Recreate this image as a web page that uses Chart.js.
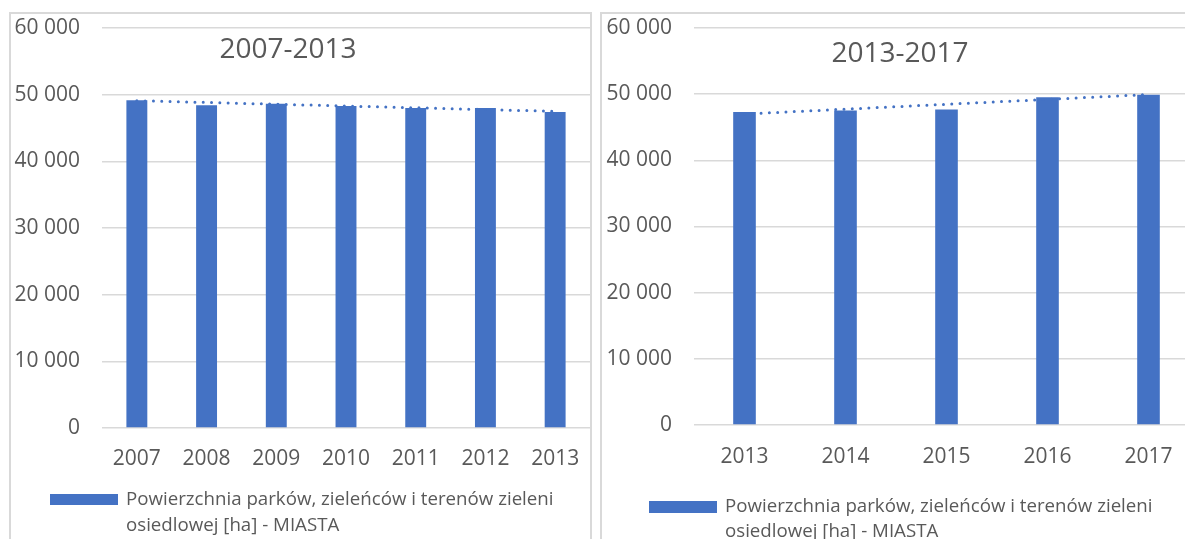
<!DOCTYPE html>
<html>
<head>
<meta charset="utf-8">
<script src="https://cdn.jsdelivr.net/npm/chart.js@4/dist/chart.umd.min.js"></script>
<style>
html,body{margin:0;padding:0;background:#fff;overflow:hidden;width:1185px;height:539px;}
.box{position:absolute;border:2px solid #d9d9d9;background:#fff;}
#boxL{left:9px;top:12px;width:579px;height:600px;}
#boxR{left:600px;top:12px;width:597px;height:600px;}
canvas{display:block;}
</style>
</head>
<body>
<div class="box" id="boxL"><canvas id="cL" width="579" height="525"></canvas></div>
<div class="box" id="boxR"><canvas id="cR" width="597" height="525"></canvas></div>
<script>
// ---- data ----
const leftYears = ['2007', '2008', '2009', '2010', '2011', '2012', '2013'];
const leftValues = [49150, 48400, 48650, 48300, 48000, 48000, 47400];
const leftTrend = [49100, null, null, null, null, null, 47500];

const rightYears = ['2013', '2014', '2015', '2016', '2017'];
const rightValues = [47300, 47550, 47700, 49550, 49900];
const rightTrend = [47000, null, null, null, 49950];

const yTickValues = [0, 10000, 20000, 30000, 40000, 50000, 60000];
const yTickLabels = ['0', '10 000', '20 000', '30 000', '40 000', '50 000', '60 000'];

const chartTitles = ['2007-2013', '2013-2017'];
const legendLines = ['Powierzchnia parków, zieleńców i terenów zieleni', 'osiedlowej [ha] - MIASTA'];

// ---- style ----
const FONT = '"Open Sans", "Noto Sans", sans-serif';
const TEXT = '#595959';
const BAR = '#4472C4';
const GRID = '#d9d9d9';
const CLEAR = 'rgba(0,0,0,0)';

const decor = {
  id: 'decor',
  afterDraw(chart, args, o) {
    const ctx = chart.ctx;
    ctx.save();
    ctx.fillStyle = TEXT;
    ctx.font = o.titleSize + 'px ' + FONT;
    ctx.textAlign = 'center';
    ctx.textBaseline = 'middle';
    ctx.fillText(o.title, o.titleX, o.titleY);
    ctx.fillStyle = BAR;
    ctx.fillRect(o.swX, o.swY, o.swW, o.swH);
    ctx.fillStyle = TEXT;
    ctx.font = o.legSize + 'px ' + FONT;
    ctx.textAlign = 'left';
    o.lines.forEach((t, i) => ctx.fillText(t, o.txX, o.txY + i * o.gap));
    ctx.restore();
  }
};

function makeChart(id, years, values, trend, cfg) {
  return new Chart(document.getElementById(id), {
    type: 'bar',
    data: {
      labels: years,
      datasets: [
        {
          type: 'line',
          label: 'Linia trendu',
          data: trend,
          spanGaps: true,
          borderColor: BAR,
          borderWidth: 3,
          borderDash: [0, 8.3],
          borderCapStyle: 'round',
          pointRadius: 0,
          fill: false,
          order: 0
        },
        {
          type: 'bar',
          label: legendLines.join(' '),
          data: values,
          backgroundColor: BAR,
          borderWidth: 0,
          categoryPercentage: 1,
          barPercentage: cfg.barPct,
          order: 1
        }
      ]
    },
    options: {
      responsive: false,
      animation: false,
      layout: { padding: { top: cfg.padTop, left: 0, right: 0, bottom: 0 } },
      plugins: {
        legend: { display: false },
        tooltip: { enabled: false },
        title: { display: false },
        decor: cfg.decor
      },
      scales: {
        x: {
          offset: true,
          grid: { display: true, drawOnChartArea: false, color: CLEAR, tickColor: CLEAR, drawTicks: true, tickLength: cfg.xPad },
          border: { display: false },
          ticks: { color: TEXT, font: { family: FONT, size: 21 }, padding: 0, maxRotation: 0, autoSkip: false },
          afterFit(s) { s.height = cfg.xHeight; }
        },
        y: {
          min: 0,
          max: 60000,
          afterBuildTicks(s) { s.ticks = yTickValues.map(v => ({ value: v })); },
          ticks: {
            color: TEXT,
            font: { family: FONT, size: 21 },
            padding: 0,
            callback: (v, i) => yTickLabels[i]
          },
          grid: { color: GRID, lineWidth: 1.5, drawTicks: true, tickLength: 22, tickColor: CLEAR },
          border: { display: false },
          afterFit(s) { s.width = cfg.yWidth; }
        }
      }
    },
    plugins: [decor]
  });
}

makeChart('cL', leftYears, leftValues, leftTrend, {
  barPct: 0.30, padTop: 14, xPad: 18, xHeight: 111, yWidth: 91,
  decor: { title: chartTitles[0], titleSize: 28, titleX: 277, titleY: 36,
           swX: 39, swY: 480, swW: 68, swH: 11,
           legSize: 18.7, lines: legendLines, txX: 115, txY: 486, gap: 26 }
});

makeChart('cR', rightYears, rightValues, rightTrend, {
  barPct: 0.224, padTop: 14, xPad: 19, xHeight: 114, yWidth: 92,
  decor: { title: chartTitles[1], titleSize: 28, titleX: 298, titleY: 40,
           swX: 47, swY: 487, swW: 68, swH: 12,
           legSize: 18.7, lines: legendLines, txX: 123, txY: 493, gap: 25 }
});
</script>
</body>
</html>
